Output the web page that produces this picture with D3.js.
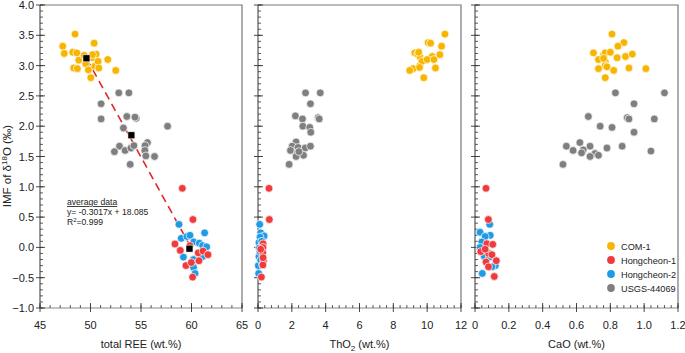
<!DOCTYPE html>
<html>
<head>
<meta charset="utf-8">
<script src="https://cdn.jsdelivr.net/npm/d3@7"></script>
<style>
  body { margin: 0; background: #fff; }
  svg text { font-family: "Liberation Sans", Arial, sans-serif; fill: #222; }
</style>
</head>
<body>
<div id="chart"></div>
<script>
// ---- data ----
// panel 1: total REE (wt.%) vs IMF
var com1_ree = [[47.25,3.32],[47.4,3.2],[48.47,3.52],[48.24,3.22],[48.64,3.21],[48.34,2.96],[48.84,3.09],[48.7,2.95],[49.37,3.17],[49.53,3.03],[49.79,2.93],[50.03,2.8],[50.16,3.13],[50.36,3.37],[50.43,2.99],[50.56,3.19],[50.75,3.07],[50.82,2.96],[51.71,3.1],[52.5,2.92],[50.2,3.18]];
var usgs_ree = [[51.05,2.37],[51.05,2.12],[52.8,2.55],[53.8,2.55],[53.6,2.16],[54.52,2.13],[54.4,2.15],[53.26,1.97],[57.63,2.0],[52.87,1.67],[52.37,1.58],[53.43,1.6],[54.0,1.64],[54.3,1.68],[53.93,1.37],[55.64,1.73],[55.4,1.68],[55.38,1.6],[55.48,1.51],[56.34,1.5]];
var hc1_ree = [[59.09,0.975],[60.14,0.46],[58.36,0.056],[58.89,-0.05],[59.45,-0.3],[59.98,-0.25],[60.67,-0.09],[61.14,-0.06],[60.74,-0.22],[61.63,-0.12],[60.11,-0.49],[59.85,0.03]];
var hc2_ree = [[58.76,0.38],[58.99,0.15],[59.55,0.18],[59.85,0.2],[60.21,0.09],[60.77,0.07],[61.1,0.03],[61.3,0.24],[61.5,0.01],[59.2,-0.16],[60.2,-0.2],[60.2,-0.33],[60.35,-0.43],[61.1,-0.15]];
var avg_ree = [[49.6,3.12],[54.05,1.85],[59.8,-0.02]];
var fit = { slope: -0.3017, intercept: 18.085, from: 49.6, to: 59.8 };

// panel 2: ThO2 (wt.%) vs IMF
var com1_tho = [[10.06,3.38],[9.27,3.21],[9.44,3.19],[9.6,3.13],[9.86,3.09],[10.3,3.15],[10.75,3.18],[9.56,3.0],[9.17,2.95],[8.97,2.92],[9.8,2.8],[10.49,2.96],[11.05,3.52],[10.85,3.32],[10.2,3.37],[9.5,3.22],[9.7,3.07],[9.55,2.97],[10.0,3.1],[10.4,3.1]];
var usgs_tho = [[2.81,2.55],[3.68,2.55],[3.1,2.37],[2.21,2.17],[2.63,2.12],[3.56,2.14],[3.62,2.12],[2.65,2.0],[3.06,1.98],[3.12,1.9],[2.25,1.74],[2.02,1.67],[2.37,1.65],[2.79,1.64],[3.1,1.67],[1.92,1.6],[2.33,1.56],[2.69,1.52],[2.25,1.5],[1.84,1.37],[2.42,1.58]];
var hc1_tho = [[0.65,0.975],[0.67,0.46],[0.3,0.06],[0.29,0.0],[0.28,-0.09],[0.32,-0.22],[0.29,-0.29],[0.2,-0.49],[0.16,-0.03],[0.3,-0.17]];
var hc2_tho = [[0.1,0.38],[0.16,0.24],[0.36,0.19],[0.12,0.17],[0.06,0.08],[0.08,-0.01],[0.06,-0.15],[0.02,-0.3],[0.04,-0.43],[0.22,0.1],[0.16,-0.21],[0.27,-0.29],[0.12,-0.07]];

// panel 3: CaO (wt.%) vs IMF
var com1_cao = [[0.81,3.52],[0.88,3.38],[0.845,3.32],[0.7,3.21],[0.76,3.18],[0.77,3.21],[0.8,3.22],[0.84,3.13],[0.89,3.15],[0.93,3.19],[0.73,3.1],[0.77,3.06],[0.77,3.0],[0.73,2.95],[0.82,2.92],[0.91,2.96],[1.01,2.95],[0.77,2.8],[0.76,3.12],[0.78,2.98]];
var usgs_cao = [[0.83,2.55],[1.12,2.55],[0.94,2.37],[0.67,2.16],[0.9,2.14],[0.91,2.12],[1.06,2.12],[0.74,2.0],[0.81,1.98],[0.94,1.9],[0.62,1.73],[0.68,1.67],[0.87,1.67],[0.54,1.67],[0.58,1.6],[0.64,1.61],[0.63,1.56],[0.71,1.55],[0.78,1.64],[0.73,1.52],[0.68,1.5],[1.04,1.59],[0.52,1.37]];
var hc1_cao = [[0.065,0.975],[0.079,0.46],[0.07,0.06],[0.105,0.05],[0.034,-0.07],[0.08,-0.1],[0.1,-0.12],[0.065,-0.24],[0.126,-0.22],[0.08,-0.32],[0.114,-0.48],[0.06,-0.03]];
var hc2_cao = [[0.087,0.38],[0.03,0.25],[0.09,0.2],[0.06,0.18],[0.04,0.09],[0.03,0.0],[0.055,-0.15],[0.085,-0.16],[0.12,-0.3],[0.1,-0.32],[0.043,-0.43]];

var seriesNames = ["COM-1", "Hongcheon-1", "Hongcheon-2", "USGS-44069"];
var colors = { "COM-1": "#f7b500", "Hongcheon-1": "#ef3b3b", "Hongcheon-2": "#1f9ae6", "USGS-44069": "#7f7f7f" };

var W = 685, H = 353;
var plotTop = 5, plotBottom = 308;

var svg = d3.select("#chart").append("svg").attr("width", W).attr("height", H);

var y = d3.scaleLinear().domain([-1, 4]).range([plotBottom, plotTop]);

var panels = [
  { x0: 40, x1: 242, domain: [45, 65], major: 5, minor: 1, fmt: d3.format("d"), title: "total REE (wt.%)",
    series: { "USGS-44069": usgs_ree, "COM-1": com1_ree, "Hongcheon-2": hc2_ree, "Hongcheon-1": hc1_ree }, yLabels: true },
  { x0: 258, x1: 461, domain: [0, 12], major: 2, minor: 0.4, fmt: d3.format("d"), title: "ThO2",
    series: { "USGS-44069": usgs_tho, "COM-1": com1_tho, "Hongcheon-2": hc2_tho, "Hongcheon-1": hc1_tho } },
  { x0: 475, x1: 678, domain: [0, 1.2], major: 0.2, minor: 0.04, fmt: function (d) { return d === 0 ? "0" : d3.format(".1f")(d); }, title: "CaO (wt.%)",
    series: { "USGS-44069": usgs_cao, "COM-1": com1_cao, "Hongcheon-2": hc2_cao, "Hongcheon-1": hc1_cao } }
];

function range(a, b, step) {
  var out = [];
  var n = Math.round((b - a) / step);
  for (var i = 0; i <= n; i++) out.push(+(a + i * step).toFixed(6));
  return out;
}

panels.forEach(function (p, pi) {
  var x = d3.scaleLinear().domain(p.domain).range([p.x0, p.x1]);
  var g = svg.append("g");

  // frame (top + right)
  g.append("path")
    .attr("d", "M" + p.x0 + "," + plotTop + "H" + p.x1 + "V" + plotBottom)
    .attr("fill", "none").attr("stroke", "#777").attr("stroke-width", 1.2);

  // y axis line
  g.append("line").attr("x1", p.x0).attr("x2", p.x0).attr("y1", plotTop).attr("y2", plotBottom)
    .attr("stroke", "#555").attr("stroke-width", 1.2);
  // x axis line
  g.append("line").attr("x1", p.x0).attr("x2", p.x1).attr("y1", plotBottom).attr("y2", plotBottom)
    .attr("stroke", "#888").attr("stroke-width", 1.2);

  // y minor ticks
  var yMinor = range(-1, 4, 0.1);
  g.selectAll(".ymin").data(yMinor).enter().append("line")
    .attr("x1", p.x0).attr("x2", p.x0 + 3)
    .attr("y1", function (d) { return y(d); }).attr("y2", function (d) { return y(d); })
    .attr("stroke", "#333").attr("stroke-width", 0.8);
  // y major ticks (crossing)
  var yMajor = range(-1, 4, 0.5);
  g.selectAll(".ymaj").data(yMajor).enter().append("line")
    .attr("x1", p.x0 - 4).attr("x2", p.x0 + 5)
    .attr("y1", function (d) { return y(d); }).attr("y2", function (d) { return y(d); })
    .attr("stroke", "#333").attr("stroke-width", 0.9);
  if (p.yLabels) {
    g.selectAll(".ylab").data(yMajor).enter().append("text")
      .attr("x", p.x0 - 6).attr("y", function (d) { return y(d) + 4; })
      .attr("text-anchor", "end").attr("font-size", 11)
      .text(function (d) { return d3.format(".1f")(d); });
  }

  // x minor ticks
  var xMinor = range(p.domain[0], p.domain[1], p.minor);
  g.selectAll(".xmin").data(xMinor).enter().append("line")
    .attr("x1", function (d) { return x(d); }).attr("x2", function (d) { return x(d); })
    .attr("y1", plotBottom).attr("y2", plotBottom - 3)
    .attr("stroke", "#333").attr("stroke-width", 0.8);
  var xMajor = range(p.domain[0], p.domain[1], p.major);
  g.selectAll(".xmaj").data(xMajor).enter().append("line")
    .attr("x1", function (d) { return x(d); }).attr("x2", function (d) { return x(d); })
    .attr("y1", plotBottom + 4).attr("y2", plotBottom - 5)
    .attr("stroke", "#333").attr("stroke-width", 0.9);
  g.selectAll(".xlab").data(xMajor).enter().append("text")
    .attr("x", function (d) { return x(d); }).attr("y", plotBottom + 21)
    .attr("text-anchor", "middle").attr("font-size", 11)
    .text(p.fmt);

  // x title
  var t = g.append("text").attr("x", (p.x0 + p.x1) / 2).attr("y", plotBottom + 40)
    .attr("text-anchor", "middle").attr("font-size", 11);
  if (p.title === "ThO2") {
    t.append("tspan").text("ThO");
    t.append("tspan").attr("font-size", 8).attr("dy", 3).text("2");
    t.append("tspan").attr("dy", -3).text(" (wt.%)");
  } else {
    t.text(p.title);
  }

  // fit line on the first panel
  if (pi === 0) {
    g.append("line")
      .attr("x1", x(fit.from)).attr("y1", y(fit.slope * fit.from + fit.intercept))
      .attr("x2", x(fit.to)).attr("y2", y(fit.slope * fit.to + fit.intercept))
      .attr("stroke", "#e32626").attr("stroke-width", 1.6)
      .attr("stroke-dasharray", "8,5");
  }

  // points
  ["USGS-44069", "COM-1", "Hongcheon-2", "Hongcheon-1"].forEach(function (name) {
    g.selectAll(null).data(p.series[name]).enter().append("circle")
      .attr("cx", function (d) { return x(d[0]); })
      .attr("cy", function (d) { return y(d[1]); })
      .attr("r", 3.9)
      .attr("fill", colors[name])
      .attr("stroke", "#fff").attr("stroke-width", 0.7);
  });

  if (pi === 0) {
    g.selectAll(".avg").data(avg_ree).enter().append("rect")
      .attr("x", function (d) { return x(d[0]) - 3.5; })
      .attr("y", function (d) { return y(d[1]) - 3.5; })
      .attr("width", 7).attr("height", 7)
      .attr("fill", "#000").attr("stroke", "#fff").attr("stroke-width", 0.6);

    var ann = g.append("g").attr("font-size", 8.6);
    ann.append("text").attr("x", 67).attr("y", 205).text("average data")
      .attr("text-decoration", "underline");
    ann.append("text").attr("x", 67).attr("y", 215).text("y= " + fit.slope + "x + " + fit.intercept);
    var r2 = ann.append("text").attr("x", 67).attr("y", 225);
    r2.append("tspan").text("R");
    r2.append("tspan").attr("font-size", 6).attr("dy", -3).text("2");
    r2.append("tspan").attr("dy", 3).text("=0.999");
  }
});

// y axis title
var yt = svg.append("text")
  .attr("transform", "translate(11,166) rotate(-90)")
  .attr("text-anchor", "middle").attr("font-size", 11.5);
yt.append("tspan").text("IMF of δ");
yt.append("tspan").attr("font-size", 8).attr("dy", -4).text("18");
yt.append("tspan").attr("dy", 4).text("O (‰)");

// legend
var leg = svg.append("g");
seriesNames.forEach(function (name, i) {
  var ly = 246 + i * 14;
  leg.append("circle").attr("cx", 611).attr("cy", ly).attr("r", 3.9).attr("fill", colors[name]);
  leg.append("text").attr("x", 621).attr("y", ly + 3.5).attr("font-size", 9.2).text(name);
});
</script>
</body>
</html>
